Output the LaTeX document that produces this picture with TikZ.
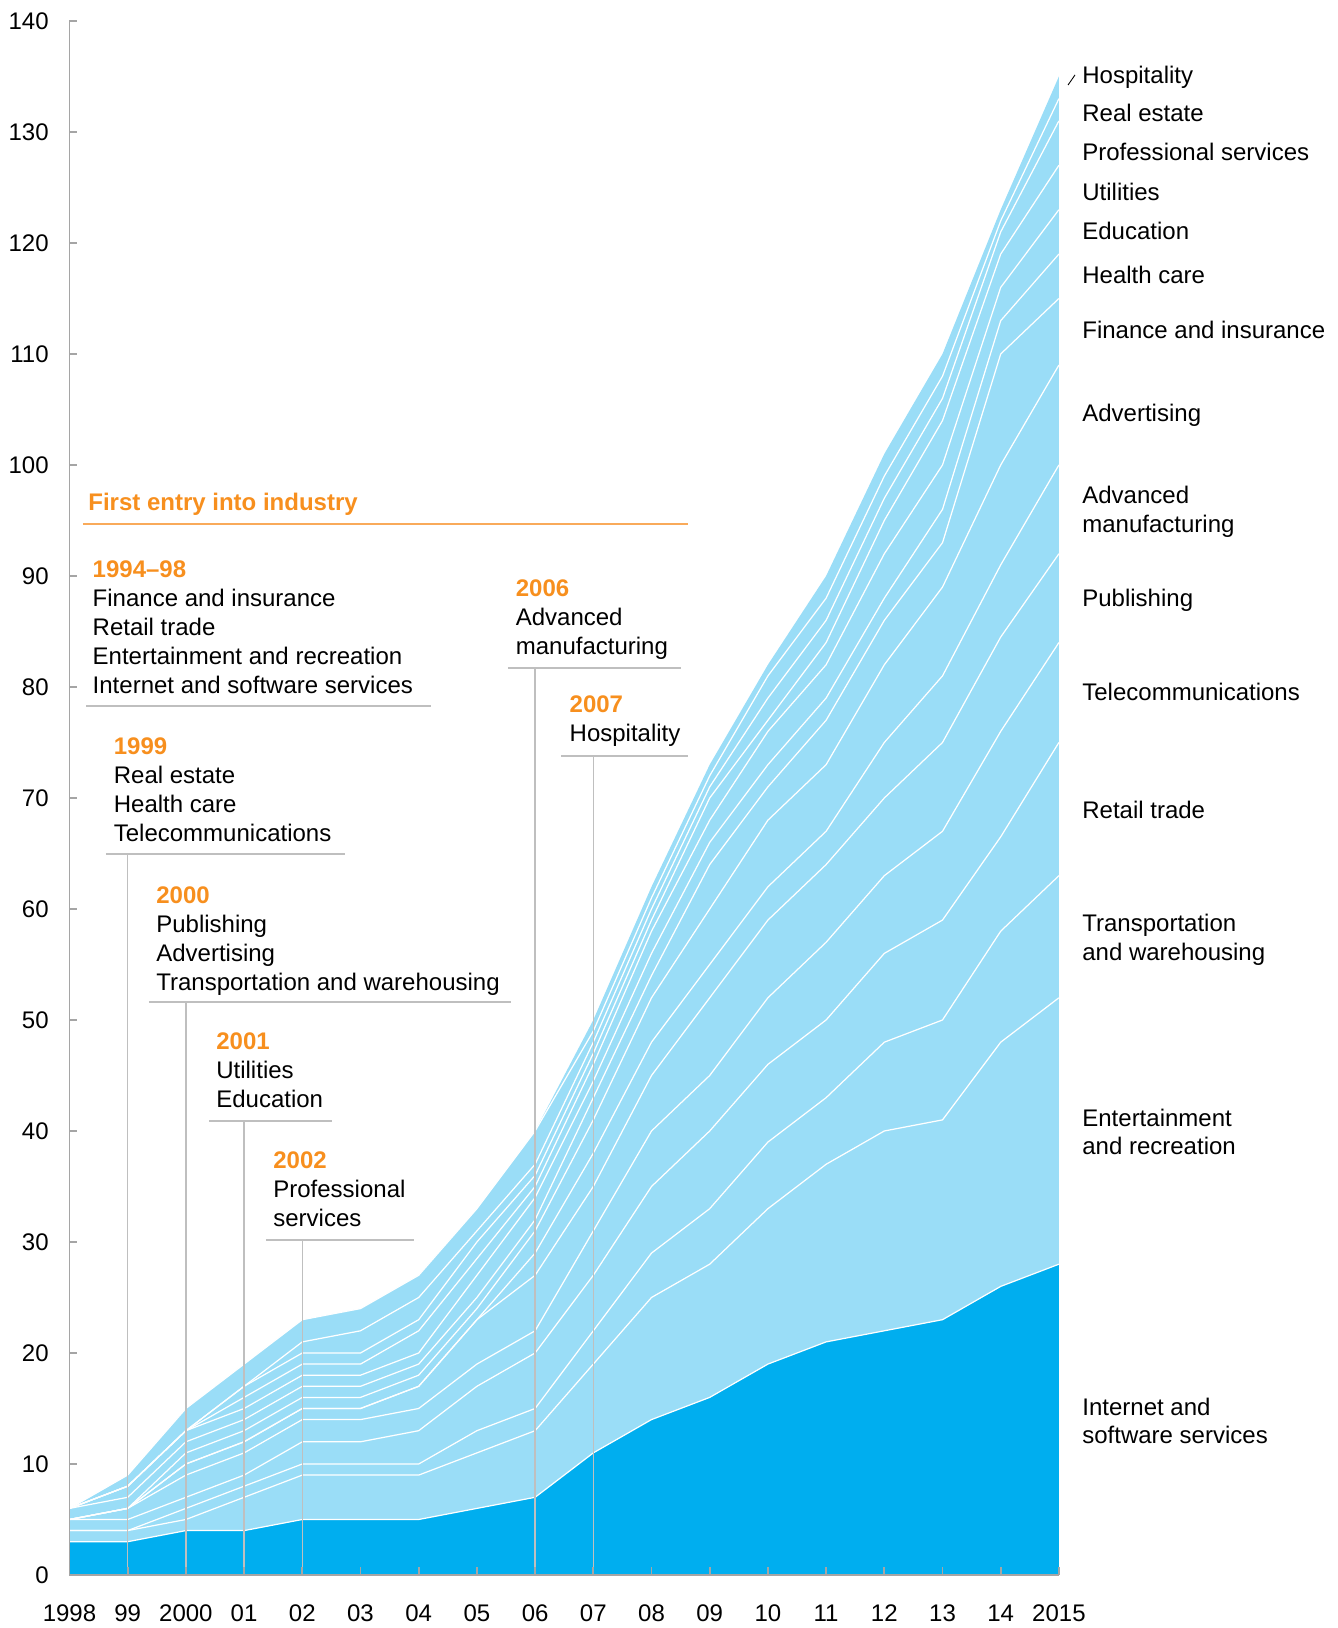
\documentclass[tikz,border=0pt]{standalone}
\usepackage{fontspec}
\setmainfont{Liberation Sans}
\usepackage{xcolor}
\usepackage{tikz}
\usetikzlibrary{positioning}
\usetikzlibrary{calc}

\definecolor{darkarea}{RGB}{0,174,239}
\definecolor{lightarea}{RGB}{154,221,247}
\definecolor{entryorange}{RGB}{247,143,30}
\definecolor{entryline}{RGB}{249,170,90}
\definecolor{rulegrey}{RGB}{191,191,191}
\definecolor{axisgrey}{RGB}{165,165,165}

\begin{document}
\begin{tikzpicture}
  [
    x=1.164cm, y=0.222cm,
    txt/.style={inner sep=0pt, anchor=base west, font=\fontsize{13.66}{16.5}\selectfont},
    entry/.style={txt, text=entryorange, font=\fontsize{13.66}{16.5}\selectfont\bfseries},
    sep/.style={draw=white, line width=0.7pt, line join=round},
    rule/.style={draw=rulegrey, line width=0.8pt},
    axis/.style={draw=axisgrey, line width=1.1pt}
  ]
  \useasboundingbox (-1.194,-4.775) rectangle (21.795,141.89);

  \foreach \i in {0,...,17}
    \coordinate (ax\i) at (\i,0);
  \coordinate (axtop) at (0,140);

  % cumulative tops, bottom layer first
  \foreach \row [count=\k] in {
    {3,3,4,4,5,5,5,6,7,11,14,16,19,21,22,23,26,28},
    {4,4,5,7,9,9,9,11,13,19,25,28,33,37,40,41,48,52},
    {4,4,6,8,10,10,10,13,15,22,29,33,39,43,48,50,58,63},
    {5,5,7,9,12,12,13,17,20,27,35,40,46,50,56,59,66.5,75},
    {5,6,9,11,14,14,15,19,22,31,40,45,52,57,63,67,76,84},
    {5,6,10,12,15,15,17,23,27,35,45,52,59,64,70,75,84.5,92},
    {5,6,10,12,15,15,17,23,29,38,48,55,62,67,75,81,91,100},
    {5,6,11,13,16,16,18,24,31,41,52,60,68,73,82,89,100,109},
    {6,7,12,14,17,17,19,25,32,43,54,64,71,77,86,93,110,115},
    {6,8,13,15,18,18,20,27,34,44.5,56,66,73,79,88,96,113,119},
    {6,8,13,16,19,19,22,28.5,35,46,58,68,76,82,92,100,116,123},
    {6,8,13,17,20,20,23,30,36,47,59,70,77,84,95,104,119,127},
    {6,8,13,17,21,22,25,31,37,48,60,71,79,86,97,106,121,131},
    {6,9,15,19,23,24,27,33,40,49,61,72,81,88,99,108,122,133},
    {6,9,15,19,23,24,27,33,40,50,62,73,82,90,101,110,123,135}}
  {
    \foreach \v [count=\i from 0] in \row
      \coordinate (b\k-\i) at (\i,\v);
  }

  \fill[lightarea] (ax0) -- (b15-0) \foreach \i in {1,...,17} {-- (b15-\i)} -- (ax17) -- cycle;
  \fill[darkarea] (ax0) -- (b1-0) \foreach \i in {1,...,17} {-- (b1-\i)} -- (ax17) -- cycle;
  \foreach \k in {1,...,14}
    \draw[sep] (b\k-0) \foreach \i in {1,...,17} {-- (b\k-\i)};

  % first entry annotations
  \node[entry] (firstentry) at (0.318,95.86) {First entry into industry};
  \coordinate (ola) at (0.232,94.68);
  \coordinate (olb) at (10.627,94.68);
  \draw[draw=entryline, line width=0.8pt] (ola) -- (olb);

  \node[entry] (h94) at (0.393,89.86) {1994--98};
  \foreach \lab [count=\k] in {Finance and insurance, Retail trade, Entertainment and recreation, Internet and software services}
    \node[txt] (h94l\k) at ([yshift=-\k*0.58cm]h94.base west) {\lab};
  \coordinate (u94a) at (0.284,78.29);
  \coordinate (u94b) at (6.211,78.29);
  \draw[rule] (u94a) -- (u94b);

  \node[entry] (h1) at (0.756,73.96) {1999};
  \foreach \lab [count=\k] in {Real estate, Health care, Telecommunications}
    \node[txt] (h1l\k) at ([yshift=-\k*0.58cm]h1.base west) {\lab};

  \node[entry] (h2) at (1.486,60.50) {2000};
  \foreach \lab [count=\k] in {Publishing, Advertising, Transportation and warehousing}
    \node[txt] (h2l\k) at ([yshift=-\k*0.58cm]h2.base west) {\lab};

  \node[entry] (h3) at (2.517,47.34) {2001};
  \foreach \lab [count=\k] in {Utilities, Education}
    \node[txt] (h3l\k) at ([yshift=-\k*0.58cm]h3.base west) {\lab};

  \node[entry] (h4) at (3.497,36.64) {2002};
  \foreach \lab [count=\k] in {Professional, services}
    \node[txt] (h4l\k) at ([yshift=-\k*0.58cm]h4.base west) {\lab};

  \node[entry] (h8) at (7.663,88.14) {2006};
  \foreach \lab [count=\k] in {Advanced, manufacturing}
    \node[txt] (h8l\k) at ([yshift=-\k*0.58cm]h8.base west) {\lab};

  \node[entry] (h9) at (8.588,77.68) {2007};
  \node[txt] (h9l1) at ([yshift=-0.58cm]h9.base west) {Hospitality};

  \foreach \n/\xa/\xb/\yy in {1/0.627/4.734/64.95, 2/1.366/7.586/51.62, 3/2.397/4.510/40.90,
                              4/3.376/5.919/30.18, 8/7.534/10.507/81.71, 9/8.445/10.627/73.78}
  {
    \coordinate (ua\n) at (\xa,\yy);
    \coordinate (ub\n) at (\xb,\yy);
    \draw[rule] (ua\n) -- (ub\n);
    \draw[rule] (ua\n -| ax\n) -- (ax\n);
  }

  % axes
  \draw[axis] (axtop) -- (ax0) -- (ax17);
  \foreach \i in {1,...,17}
    \draw[axis] (ax\i) -- ++(0,0.75);
  \foreach \v in {10,20,...,140}
    \draw[axis] (0,\v) -- ++(0.137,0);
  \foreach \v in {0,10,...,140}
    \node[txt, anchor=east] (yl\v) at (-0.352,\v) {\v};
  \foreach \lab [count=\i from 0] in {1998,99,2000,01,02,03,04,05,06,07,08,09,10,11,12,13,14,2015}
    \node[txt, anchor=base] (xl\i) at (\i,-4.234) {\lab};

  % industry names at the right
  \foreach \yy/\lab [count=\k] in {134.39/Hospitality, 130.93/Real estate, 127.41/Professional services,
      123.81/Utilities, 120.27/Education, 116.31/Health care, 111.41/Finance and insurance,
      103.90/Advertising, 96.53/Advanced, 93.92/manufacturing, 87.25/Publishing,
      78.78/Telecommunications, 68.15/Retail trade, 57.99/Transportation, 55.38/and warehousing,
      40.41/Entertainment, 37.88/and recreation, 14.41/Internet and, 11.86/software services}
    \node[txt] (side\k) at (17.397,\yy) {\lab};
  \coordinate (hta) at (17.157,134.23);
  \coordinate (htb) at (17.277,135.14);
  \draw[black, line width=0.5pt] (hta) -- (htb);
\end{tikzpicture}
\end{document}
